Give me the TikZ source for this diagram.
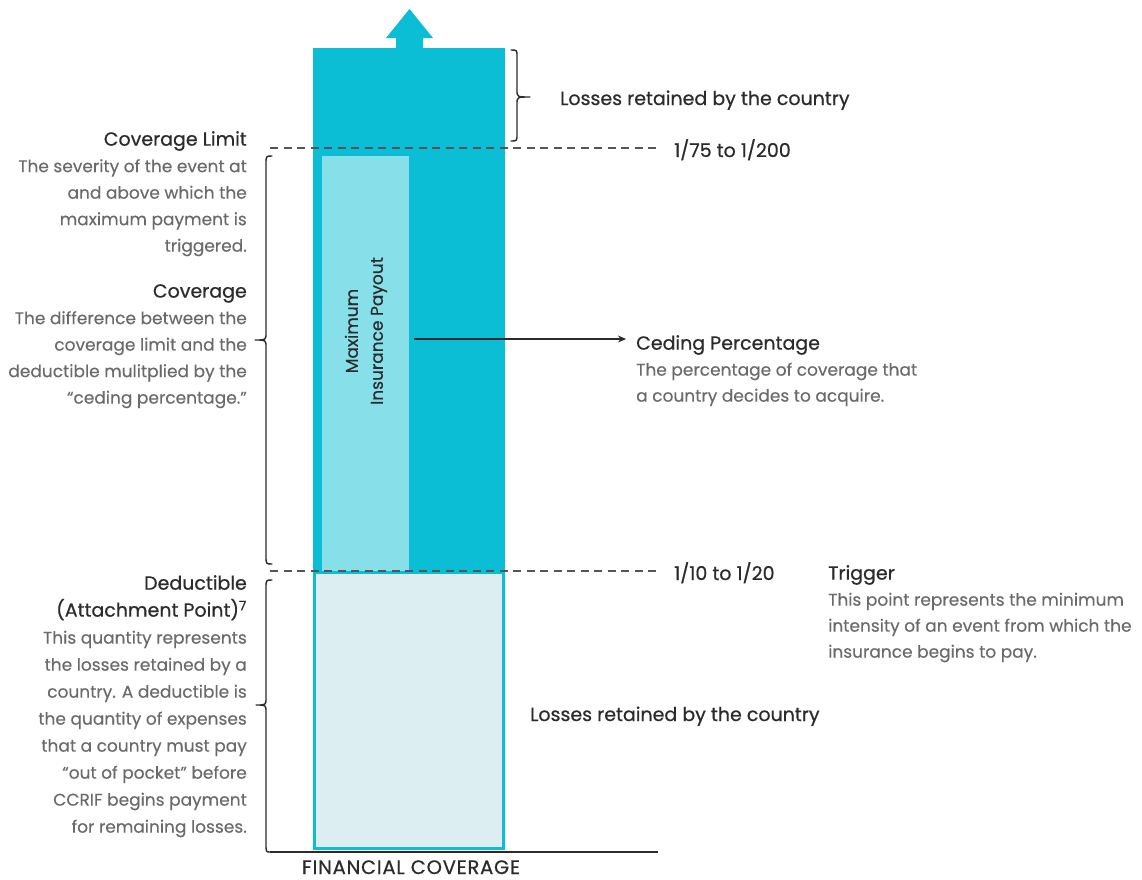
\documentclass[tikz,border=0pt]{standalone}
\usepackage{fontspec}
\setmainfont{Poppins}
\usetikzlibrary{arrows.meta}
\definecolor{tealA}{HTML}{0BBED5}
\definecolor{tealL}{HTML}{87DFEA}
\definecolor{paleB}{HTML}{DDEEF2}
\definecolor{darkT}{HTML}{2B2B2B}
\definecolor{grayT}{HTML}{6A6A6A}
\definecolor{dashC}{HTML}{555555}
\tikzset{
  head/.style={inner sep=0pt, text=darkT, font=\fontsize{19}{26.3}\selectfont\addfontfeature{FakeBold=0.6}},
  bodyL/.style={inner sep=0pt, anchor=north east, align=right, text=grayT, font=\fontsize{17}{26.5}\selectfont\addfontfeature{FakeBold=0.25}},
  bodyR/.style={inner sep=0pt, anchor=north west, align=left, text=grayT, font=\fontsize{17}{26}\selectfont\addfontfeature{FakeBold=0.25}},
  brace/.style={draw=darkT, line width=1.4pt, line cap=round, line join=round},
  dashline/.style={draw=dashC, line width=1.8pt, dash pattern=on 8pt off 5.5pt},
}
\newcommand{\hdt}[1]{{\fontsize{19}{26.5}\selectfont\addfontfeature{FakeBold=0.6}\color{darkT}#1}}
\begin{document}
\begin{tikzpicture}[x=1pt,y=-1pt]
\useasboundingbox (0,0) rectangle (1142,879);
% column
\fill[tealA] (313,48) rectangle (505,571);
\fill[tealA] (396,49) -- (396,38) -- (386,38) -- (409.5,9) -- (433,38) -- (423,38) -- (423,49) -- cycle;
\fill[tealL] (322,156) rectangle (409,571);
\filldraw[fill=paleB, draw=tealA, line width=3pt] (314.5,572.5) rectangle (503.5,848.5);
% dashed lines
\draw[dashline] (270,148) -- (660,148);
\draw[dashline] (270,571) -- (660,571);
% baseline
\coordinate (bl0) at (270,852);
\coordinate (bl1) at (658,852);
\draw[darkT, line width=1.3pt] (bl0) -- (bl1);
% braces
\draw[brace] (511,50) .. controls (517,50) .. (517,57) -- (517,90) .. controls (517,97) .. (530,97) .. controls (517,97) .. (517,104) -- (517,134) .. controls (517,141) .. (511,141);
\draw[brace] (272,156) .. controls (266,156) .. (266,164) -- (266,333) .. controls (266,340) .. (255,340) .. controls (266,340) .. (266,347) -- (266,556) .. controls (266,564) .. (272,564);
\draw[brace] (272,580) .. controls (266,580) .. (266,588) -- (266,698) .. controls (266,705) .. (256,705) .. controls (266,705) .. (266,712) -- (266,843) .. controls (266,852) .. (bl0);
% vertical label
\node[inner sep=0pt, rotate=90, align=center, text=darkT, font=\fontsize{17}{25}\selectfont\addfontfeature{FakeBold=0.6}] (maxpay) at (366,331) {Maximum\\Insurance Payout};
% arrow
\coordinate (cpstart) at (414,339);
\coordinate (cpend) at (626,339);
\draw[darkT, line width=1.3pt, -{Stealth[length=8pt,width=7pt]}] (cpstart) -- (cpend);
% right texts
\node[head, anchor=base west] (lossTop) at (560,105) {Losses retained by the country};
\node[head, anchor=base west] (rp1) at (674,157) {1/75 to 1/200};
\node[head, anchor=base west] (rp2) at (674,580) {1/10 to 1/20};
\node[head, anchor=base west] (lossBot) at (530,721) {Losses retained by the country};
\node[head, anchor=base, font=\fontsize{19.5}{24}\selectfont\addfontfeature{FakeBold=0.6,LetterSpace=4}] (fincov) at (411,874) {FINANCIAL COVERAGE};
\node[bodyR] (ceding) at (636,335) {\hdt{Ceding Percentage}\\The percentage of coverage that\\a country decides to acquire.};
\node[bodyR] (trigger) at (828,565) {\hdt{Trigger}\\This point represents the minimum\\intensity of an event from which the\\insurance begins to pay.};
% left texts
\node[bodyL] (covlim) at (247,131) {\hdt{Coverage Limit}\\The severity of the event at\\and above which the\\maximum payment is\\triggered.};
\node[bodyL] (cov) at (247,284) {\hdt{Coverage}\\The difference between the\\coverage limit and the\\deductible mulitplied by the\\“ceding percentage.”};
\node[bodyL, font=\fontsize{17}{27}\selectfont\addfontfeature{FakeBold=0.25}] (deduct) at (247,575) {\hdt{Deductible}\\\hdt{(Attachment Point)\textsuperscript{7}}\\This quantity represents\\the losses retained by a\\country. A deductible is\\the quantity of expenses\\that a country must pay\\“out of pocket” before\\CCRIF begins payment\\for remaining losses.};
\end{tikzpicture}
\end{document}
